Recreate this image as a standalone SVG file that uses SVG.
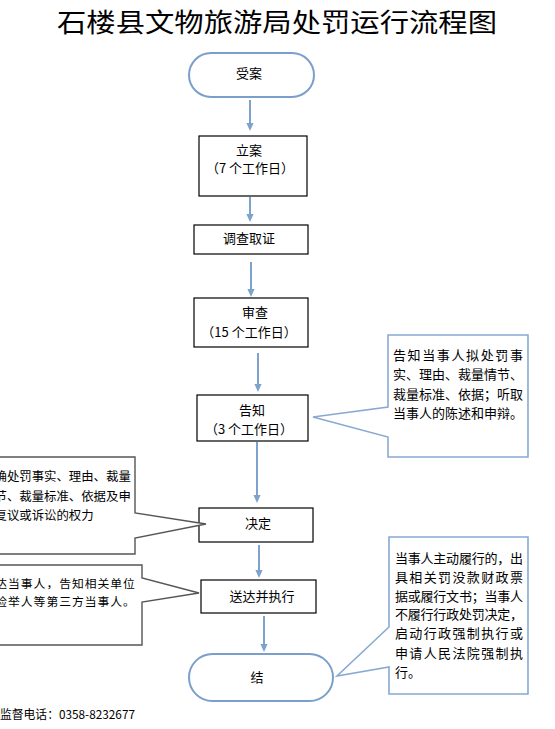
<svg xmlns="http://www.w3.org/2000/svg" width="555" height="729" viewBox="0 0 555 729">
<style>
text{font-family:"Noto Sans CJK SC","Liberation Sans",sans-serif;fill:#000}
.t{font-size:13px;text-anchor:middle}
.box{fill:#fff;stroke:#000;stroke-width:1.2}
.term{fill:#fff;stroke:#7b9fcb;stroke-width:2}
.cr{fill:#fff;stroke:#88a9d3;stroke-width:1.6}
.cl{fill:#fff;stroke:#555;stroke-width:1.4}
.c{font-size:13px}
.conn line{stroke:#7da2cc;stroke-width:2;fill:none}
</style>
<defs>
<marker id="ah" viewBox="0 0 8 8" refX="5" refY="4" markerWidth="8" markerHeight="8" markerUnits="userSpaceOnUse" orient="auto">
<path d="M0,0.4 L8,4 L0,7.6 Z" fill="#7da2cc"/>
</marker>
</defs>
<rect width="555" height="729" fill="#fff"/>
<text id="title" x="57" y="32" font-size="26" textLength="440" lengthAdjust="spacingAndGlyphs">石楼县文物旅游局处罚运行流程图</text>

<g id="n-shouan">
<rect class="term" x="189" y="53" width="125" height="44" rx="22" ry="22"/>
<text class="t" x="249" y="78">受案</text>
</g>
<g id="n-lian">
<rect class="box" x="199" y="136" width="108" height="60"/>
<text class="t" x="249" y="155">立案</text>
<text class="t" x="250" y="173">（7 个工作日）</text>
</g>
<g id="n-diaocha">
<rect class="box" x="194" y="225" width="114" height="29"/>
<text class="t" x="249" y="243">调查取证</text>
</g>
<g id="n-shencha">
<rect class="box" x="194" y="298" width="114" height="49"/>
<text class="t" x="255" y="317">审查</text>
<text class="t" x="249" y="337">（15 个工作日）</text>
</g>
<g id="n-gaozhi">
<rect class="box" x="197" y="395" width="111" height="46"/>
<text class="t" x="252" y="415">告知</text>
<text class="t" x="249" y="434">（3 个工作日）</text>
</g>
<g id="n-jueding">
<rect class="box" x="199" y="508" width="114" height="34"/>
<text class="t" x="258" y="528">决定</text>
</g>
<g id="n-songda">
<rect class="box" x="201" y="580" width="115" height="33"/>
<text class="t" x="262" y="601">送达并执行</text>
</g>
<g id="n-jie">
<rect class="term" x="189" y="654" width="144" height="47" rx="23.5" ry="23.5"/>
<text class="t" x="257" y="682">结</text>
</g>

<g id="callout-gaozhi">
<path class="cr" d="M388,335 H528 V457 H388 V437 L313,417 L388,407 Z"/>
<text class="c" x="393" y="360" textLength="130" lengthAdjust="spacing">告知当事人拟处罚事</text>
<text class="c" x="393" y="379" textLength="130" lengthAdjust="spacing">实、理由、裁量情节、</text>
<text class="c" x="393" y="399" textLength="130" lengthAdjust="spacing">裁量标准、依据；听取</text>
<text class="c" x="393" y="418">当事人的陈述和申辩。</text>
</g>
<g id="callout-jueding">
<path class="cl" d="M-5,457 H135 V513 L206,524 L135,538 V554 H-5 Z"/>
<text x="-5.5" y="481" font-size="12.4">确处罚事实、理由、裁量</text>
<text x="-5.5" y="501" font-size="12.4">节、裁量标准、依据及申</text>
<text x="-5.5" y="520" font-size="12.4">复议或诉讼的权力</text>
</g>
<g id="callout-songda">
<path class="cl" d="M-5,565 H142 V578 L199,593 L142,602 V645 H-5 Z"/>
<text x="-4.7" y="588" font-size="11.8" textLength="139.5" lengthAdjust="spacing">达当事人，告知相关单位</text>
<text x="-4.7" y="605.5" font-size="11.8" textLength="139.5" lengthAdjust="spacing">检举人等第三方当事人。</text>
</g>
<g id="callout-jie">
<path class="cr" d="M389,537 H528 V694 H389 V667 L337,676 L389,627 Z"/>
<text class="c" x="395" y="563" textLength="128" lengthAdjust="spacing">当事人主动履行的，出</text>
<text class="c" x="395" y="582" textLength="128" lengthAdjust="spacing">具相关罚没款财政票</text>
<text class="c" x="395" y="601" textLength="128" lengthAdjust="spacing">据或履行文书；当事人</text>
<text class="c" x="395" y="619" textLength="128" lengthAdjust="spacing">不履行行政处罚决定，</text>
<text class="c" x="395" y="638" textLength="128" lengthAdjust="spacing">启动行政强制执行或</text>
<text class="c" x="395" y="658" textLength="128" lengthAdjust="spacing">申请人民法院强制执</text>
<text class="c" x="395" y="677">行。</text>
</g>

<g id="connectors" class="conn">
<line x1="250" y1="100" x2="250" y2="128" marker-end="url(#ah)"/>
<line x1="250" y1="197" x2="250" y2="219" marker-end="url(#ah)"/>
<line x1="251" y1="262" x2="251" y2="294" marker-end="url(#ah)"/>
<line x1="258" y1="353" x2="258" y2="389" marker-end="url(#ah)"/>
<line x1="257" y1="442" x2="257" y2="500" marker-end="url(#ah)"/>
<line x1="259" y1="545" x2="259" y2="575" marker-end="url(#ah)"/>
<line x1="264" y1="616" x2="264" y2="649" marker-end="url(#ah)"/>
</g>

<text id="footer" x="0" y="719" font-size="12" textLength="135" lengthAdjust="spacingAndGlyphs">监督电话：0358-8232677</text>
</svg>
